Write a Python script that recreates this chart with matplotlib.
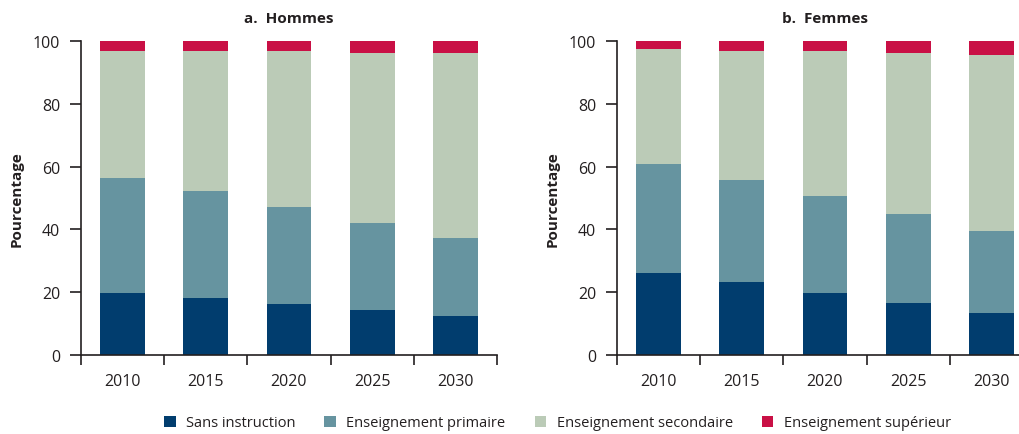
import matplotlib.pyplot as plt
import numpy as np

years = ["2010", "2015", "2020", "2025", "2030"]
levels = ["Sans instruction", "Enseignement primaire",
          "Enseignement secondaire", "Enseignement supérieur"]
colors = ["#013d6e", "#6694a0", "#bbcbb7", "#c91045"]

# cumulative tops of each level (percent)
hommes_sans = [19.8, 18.2, 16.3, 14.4, 12.5]
hommes_primaire = [56.4, 52.3, 47.2, 42.1, 37.3]
hommes_secondaire = [96.8, 96.8, 96.8, 96.2, 96.2]

femmes_sans = [26.2, 23.3, 19.8, 16.6, 13.5]
femmes_primaire = [60.9, 55.8, 50.7, 45.0, 39.6]
femmes_secondaire = [97.5, 96.8, 96.8, 96.2, 95.5]

txt = "#231f20"
plt.rcParams["font.family"] = ["Open Sans", "DejaVu Sans"]
plt.rcParams["text.color"] = txt
plt.rcParams["axes.labelcolor"] = txt
plt.rcParams["xtick.color"] = txt
plt.rcParams["ytick.color"] = txt

fig = plt.figure(figsize=(10.19, 4.35), dpi=100)
ax1 = fig.add_axes([0.0795, 0.1816, 0.4082, 0.7218])
ax2 = fig.add_axes([0.6055, 0.1816, 0.4082, 0.7218])


def draw_panel(ax, title, sans, prim, sec):
    x = np.arange(len(years))
    tops = [np.array(sans), np.array(prim), np.array(sec), np.full(len(years), 100.0)]
    bottom = np.zeros(len(years))
    handles = []
    for top, c, lab in zip(tops, colors, levels):
        h = ax.bar(x, top - bottom, bottom=bottom, width=0.54, color=c, label=lab)
        handles.append(h)
        bottom = top
    ax.set_xlim(-0.5, 4.5)
    ax.set_ylim(0, 100)
    ax.set_xticks(x)
    ax.set_xticklabels(years)
    ax.set_xticks(np.arange(-0.5, 5, 1), minor=True)
    ax.tick_params(axis="x", which="major", length=0, pad=13, labelsize=11.5)
    ax.tick_params(axis="x", which="minor", length=7.5, width=1.2, direction="out")
    ax.set_yticks([0, 20, 40, 60, 80, 100])
    ax.tick_params(axis="y", length=8, width=1.2, pad=7, labelsize=11.5)
    for s in ["top", "right"]:
        ax.spines[s].set_visible(False)
    for s in ["left", "bottom"]:
        ax.spines[s].set_linewidth(1.2)
        ax.spines[s].set_color(txt)
    ax.set_ylabel("Pourcentage", fontsize=11, fontweight="bold")
    ax.yaxis.set_label_coords(-0.137, 0.5)
    ax.set_title(title, fontsize=11, fontweight="bold", pad=14)
    return handles


handles = draw_panel(ax1, "a.  Hommes", hommes_sans, hommes_primaire, hommes_secondaire)
draw_panel(ax2, "b.  Femmes", femmes_sans, femmes_primaire, femmes_secondaire)

fig.legend(handles, levels, loc="center", bbox_to_anchor=(0.547, 0.026),
           ncol=4, frameon=False, fontsize=10.5, handlelength=0.8,
           handleheight=0.8, handletextpad=0.7, columnspacing=2.0)

fig.savefig("out.png", dpi=100)
